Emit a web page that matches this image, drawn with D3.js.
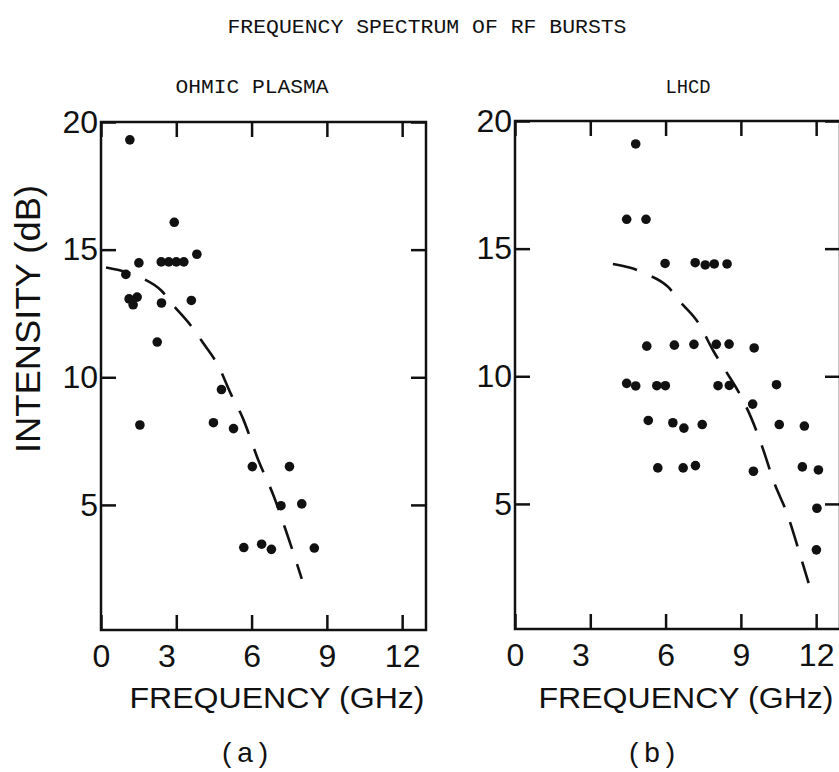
<!DOCTYPE html>
<html lang="en">
<head>
<meta charset="utf-8">
<script src="https://d3js.org/d3.v7.min.js"></script>
<style>
  body { margin: 0; background: #fff; }
  text { fill: #111; }
</style>
</head>
<body>
<div id="chart"></div>
<script>

// (a) ohmic plasma - measured bursts
var ohmicFreq = [1.15, 2.92, 3.82, 2.4, 2.7, 3.0, 3.3, 1.51, 0.99, 1.12, 1.28, 1.44, 2.41, 3.6, 2.24,
                 4.8, 1.55, 4.48, 5.28, 6.03, 7.51, 7.17, 8.0, 5.69, 6.4, 6.79, 8.5];
var ohmicDb   = [19.3, 16.07, 14.82, 14.52, 14.52, 14.52, 14.52, 14.48, 14.03, 13.07, 12.84, 13.14, 12.91, 13.01, 11.38,
                 9.52, 8.13, 8.22, 7.99, 6.5, 6.5, 4.97, 5.04, 3.33, 3.46, 3.26, 3.31];
// dashed curve (a)
var ohmicFitFreq = [0.2, 0.7, 1.6, 2.4, 2.9, 3.6, 4.1, 4.7, 5.15, 5.65, 6.25, 6.9, 7.4, 8.0];
var ohmicFitDb   = [14.3, 14.2, 13.9, 13.4, 12.8, 12.0, 11.3, 10.4, 9.4, 8.4, 6.8, 5.3, 3.9, 2.1];

// (b) LHCD - measured bursts
var lhcdFreq = [4.81, 4.45, 5.22, 5.98, 7.18, 7.58, 7.94, 8.45, 5.25, 6.35, 7.13, 8.02, 8.53, 9.53,
                4.45, 4.81, 5.65, 5.99, 8.09, 8.54, 10.42, 9.47, 5.31, 6.29, 6.73, 7.46, 10.53, 11.53,
                5.69, 6.7, 7.19, 9.5, 11.45, 12.09, 12.03, 12.01];
var lhcdDb   = [19.1, 16.15, 16.15, 14.42, 14.45, 14.36, 14.4, 14.4, 11.18, 11.22, 11.25, 11.25, 11.26, 11.11,
                9.72, 9.62, 9.63, 9.63, 9.63, 9.64, 9.67, 8.91, 8.27, 8.18, 7.97, 8.11, 8.11, 8.05,
                6.41, 6.41, 6.5, 6.28, 6.45, 6.33, 4.83, 3.2];
// dashed curve (b)
var lhcdFitFreq = [3.9, 4.6, 5.25, 6.1, 6.6, 7.3, 7.9, 8.4, 8.9, 9.4, 9.9, 10.3, 10.85, 11.3, 11.7];
var lhcdFitDb   = [14.4, 14.25, 14.0, 13.5, 12.9, 12.1, 11.0, 10.2, 9.4, 8.4, 7.1, 5.9, 4.6, 3.2, 1.9];

var xTicks = [0, 3, 6, 9, 12];
var yTicks = [5, 10, 15, 20];

var width = 839, height = 772;

var svg = d3.select("#chart").append("svg")
  .attr("width", width)
  .attr("height", height);

svg.append("text")
  .attr("x", 427).attr("y", 33)
  .attr("text-anchor", "middle")
  .attr("textLength", 399)
  .attr("lengthAdjust", "spacingAndGlyphs")
  .style("font-family", "Liberation Mono")
  .style("font-size", "21px")
  .text("FREQUENCY SPECTRUM OF RF BURSTS");

svg.append("text")
  .attr("transform", "translate(40,319) rotate(-90)")
  .attr("text-anchor", "middle")
  .attr("textLength", 268)
  .attr("lengthAdjust", "spacingAndGlyphs")
  .style("font-family", "Liberation Sans")
  .style("font-size", "35px")
  .text("INTENSITY (dB)");

function panel(opt) {
  var x = d3.scaleLinear().domain([0, 12.95]).range([opt.left, opt.right]);
  var y = d3.scaleLinear().domain([0.1, 20]).range([opt.bottom, opt.top]);
  var g = svg.append("g");

  // frame
  g.append("rect")
    .attr("x", opt.left).attr("y", opt.top)
    .attr("width", opt.right - opt.left)
    .attr("height", opt.bottom - opt.top)
    .attr("fill", "none")
    .attr("stroke", "#111")
    .attr("stroke-width", 2.5);

  // inward ticks on all four sides
  var ax = [
    [d3.axisBottom(x).tickValues(xTicks), "translate(0," + opt.bottom + ")", true],
    [d3.axisTop(x).tickValues(xTicks), "translate(0," + opt.top + ")", false],
    [d3.axisLeft(y).tickValues(yTicks), "translate(" + opt.left + ",0)", true],
    [d3.axisRight(y).tickValues(yTicks), "translate(" + opt.right + ",0)", false]
  ];
  ax.forEach(function (a) {
    var axis = a[0].tickSize(-15);
    if (!a[2]) axis.tickFormat("");
    var ga = g.append("g").attr("transform", a[1]).call(axis);
    ga.select(".domain").remove();
    ga.selectAll(".tick line").attr("stroke", "#111").attr("stroke-width", 2.5);
    ga.selectAll("text")
      .style("font-family", "Liberation Sans")
      .style("font-size", "32px")
      .attr("fill", "#111");
  });
  g.selectAll("g").filter(function (d, i) { return i === 0; })
    .selectAll("text").attr("dy", "0.71em").attr("y", 14);
  g.selectAll("g").filter(function (d, i) { return i === 2; })
    .selectAll("text").attr("x", -10);

  // dashed fit
  var fit = opt.fitX.map(function (v, i) { return [v, opt.fitY[i]]; });
  g.append("path")
    .datum(fit)
    .attr("fill", "none")
    .attr("stroke", "#111")
    .attr("stroke-width", 2.6)
    .attr("stroke-dasharray", "25,16")
    .attr("d", d3.line()
      .x(function (d) { return x(d[0]); })
      .y(function (d) { return y(d[1]); })
      .curve(d3.curveMonotoneX));

  // points
  g.selectAll(".dot")
    .data(opt.px.map(function (v, i) { return [v, opt.py[i]]; }))
    .enter().append("circle")
    .attr("class", "dot")
    .attr("cx", function (d) { return x(d[0]); })
    .attr("cy", function (d) { return y(d[1]); })
    .attr("r", 4.8)
    .attr("fill", "#111");

  g.append("text")
    .attr("x", opt.titleX).attr("y", 93)
    .attr("text-anchor", "middle")
    .attr("textLength", opt.titleW)
    .attr("lengthAdjust", "spacingAndGlyphs")
    .style("font-family", "Liberation Mono")
    .style("font-size", "20px")
    .text(opt.title);

  g.append("text")
    .attr("x", opt.labelX).attr("y", 708)
    .attr("text-anchor", "middle")
    .attr("textLength", 295)
    .attr("lengthAdjust", "spacingAndGlyphs")
    .style("font-family", "Liberation Sans")
    .style("font-size", "30px")
    .text("FREQUENCY (GHz)");

  g.append("text")
    .attr("x", opt.tagX).attr("y", 762)
    .attr("text-anchor", "middle")
    .style("font-family", "Liberation Sans")
    .style("font-size", "28px")
    .style("letter-spacing", "6px")
    .text(opt.tag);
}

panel({ left: 101, right: 426, top: 122, bottom: 630,
        px: ohmicFreq, py: ohmicDb, fitX: ohmicFitFreq, fitY: ohmicFitDb,
        title: "OHMIC PLASMA", titleX: 252, titleW: 153, labelX: 277, tagX: 248, tag: "(a)" });

panel({ left: 515, right: 840, top: 121, bottom: 629,
        px: lhcdFreq, py: lhcdDb, fitX: lhcdFitFreq, fitY: lhcdFitDb,
        title: "LHCD", titleX: 688, titleW: 45, labelX: 686, tagX: 655, tag: "(b)" });

</script>
</body>
</html>
